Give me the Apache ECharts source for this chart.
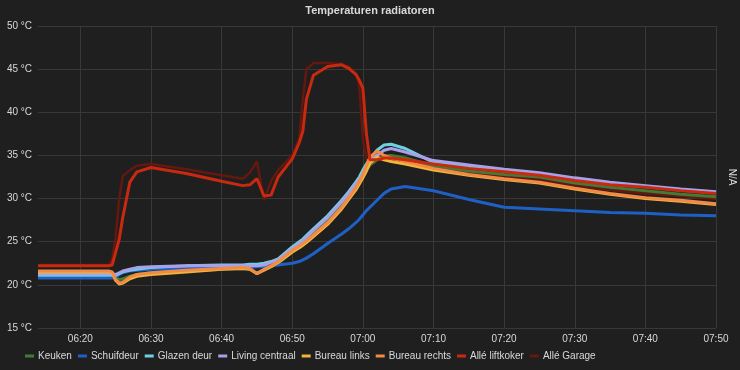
<!DOCTYPE html>
<html>
<head>
<meta charset="utf-8">
<script src="https://cdn.jsdelivr.net/npm/echarts@6/dist/echarts.min.js"></script>
<style>
html,body{margin:0;padding:0;background:#1f1f20;}
#c{width:740px;height:370px;}
</style>
</head>
<body>
<div id="c"></div>
<script>
var title = 'Temperaturen radiatoren';
var seriesNames = ['Keuken','Schuifdeur','Glazen deur','Living centraal','Bureau links','Bureau rechts','Allé liftkoker','Allé Garage'];
var tickLabels = ['06:20','06:30','06:40','06:50','07:00','07:10','07:20','07:30','07:40','07:50'];
var yTicks = [15,20,25,30,35,40,45,50];

var times = ['06:14','06:20','06:24','06:24:30','06:25','06:25:30','06:26','06:27','06:28','06:30',
  '06:35','06:40','06:43','06:44','06:45','06:46','06:47','06:48','06:50','06:51',
  '06:51:30','06:52','06:53','06:55','06:57','06:58','06:59','06:59:30','07:00','07:00:30',
  '07:01','07:02','07:03','07:04','07:06','07:10','07:15','07:20','07:25','07:30',
  '07:35','07:40','07:45','07:50'];

var keuken = [21.4,21.4,21.4,21.3,20.9,20.6,20.7,21.0,21.2,21.4,
  21.6,21.8,21.9,21.8,21.4,21.7,22.1,22.5,23.8,24.4,
  24.7,25.1,25.9,27.4,29.2,30.2,31.3,31.9,32.6,33.3,
  33.9,34.5,34.9,35.0,34.7,33.8,33.2,32.8,32.5,31.8,
  31.3,30.9,30.5,30.2];
var schuifdeur = [20.8,20.8,20.8,20.8,20.9,21.2,21.4,21.6,21.7,21.8,
  21.9,22.0,22.0,22.0,22.1,22.1,22.2,22.3,22.5,22.7,
  22.9,23.1,23.6,24.8,25.9,26.5,27.2,27.6,28.1,28.6,
  29.0,29.8,30.6,31.1,31.4,30.9,29.9,29.0,28.8,28.6,
  28.4,28.3,28.1,28.0];
var glazenDeur = [21.1,21.1,21.1,21.1,21.1,21.3,21.5,21.7,21.8,22.0,
  22.2,22.3,22.3,22.4,22.4,22.5,22.7,23.0,24.4,25.0,
  25.3,25.7,26.5,28.0,29.8,30.8,31.9,32.5,33.3,34.0,
  34.6,35.6,36.2,36.3,35.8,34.2,33.7,33.2,32.8,32.3,
  31.8,31.4,31.0,30.7];
var living = [21.3,21.3,21.3,21.3,21.2,21.4,21.6,21.8,22.0,22.1,
  22.2,22.2,22.2,22.2,22.2,22.3,22.6,22.9,24.2,24.8,
  25.1,25.5,26.3,27.8,29.6,30.6,31.7,32.2,32.9,33.6,
  34.2,35.0,35.6,35.8,35.4,34.4,33.9,33.4,33.0,32.4,
  31.9,31.5,31.1,30.8];
var bureauLinks = [21.5,21.5,21.5,21.4,20.5,20.1,20.2,20.7,21.0,21.2,
  21.5,21.8,21.9,21.8,21.3,21.7,22.1,22.6,23.8,24.3,
  24.6,24.9,25.6,27.0,28.8,29.9,31.0,31.7,32.4,33.2,
  34.1,34.8,34.5,34.3,34.0,33.3,32.7,32.2,31.8,31.1,
  30.5,30.0,29.7,29.3];
var bureauRechts = [21.6,21.6,21.6,21.5,20.6,20.2,20.3,20.9,21.2,21.4,
  21.7,21.9,22.0,21.9,21.3,21.8,22.2,22.7,24.0,24.5,
  24.8,25.1,25.8,27.2,29.0,30.1,31.3,32.0,32.8,33.8,
  34.8,35.5,35.0,34.7,34.3,33.5,32.8,32.3,31.9,31.2,
  30.6,30.1,29.8,29.4];
var liftkoker = [22.2,22.2,22.2,22.3,23.8,25.3,27.8,31.9,33.1,33.6,
  32.9,32.0,31.5,31.6,32.3,30.3,30.4,32.5,34.6,36.5,
  37.8,41.5,44.3,45.3,45.5,45.1,44.4,43.7,42.8,37.5,
  34.5,34.5,34.7,34.7,34.5,34.0,33.5,33.1,32.7,32.1,
  31.6,31.3,30.9,30.6];
var garage = [22.3,22.3,22.3,23.0,25.5,30.0,32.6,33.3,33.8,34.0,
  33.4,32.7,32.3,33.0,34.3,29.8,32.0,33.3,35.0,37.0,
  41.5,45.0,45.7,45.7,45.6,45.3,44.5,43.0,37.0,34.5,
  34.4,34.7,34.8,34.8,34.5,33.7,33.1,32.6,32.2,31.5,
  31.0,30.6,30.3,29.95];

var colors = ['#447a35','#1f60c4','#6ed0e0','#a8a0e8','#f2b43a','#f08a45','#c8290f','#641810'];
var values = [keuken, schuifdeur, glazenDeur, living, bureauLinks, bureauRechts, liftkoker, garage];

function toMin(s){
  var p = s.split(':').map(Number);
  return p[0]*60 + p[1] + (p[2]||0)/60;
}
function fmt(m){
  var h = Math.floor(m/60), mm = Math.round(m - h*60);
  return (h<10?'0':'')+h+':'+(mm<10?'0':'')+mm;
}
var tMin = times.map(toMin);
var tickVals = tickLabels.map(toMin);

var series = seriesNames.map(function(n,i){
  return {
    name: n, type: 'line', showSymbol: false, symbol: 'none',
    data: tMin.map(function(t,j){ return [t, values[i][j]]; }),
    lineStyle: {width: i===7 ? 2.5 : 3, color: colors[i]},
    itemStyle: {color: colors[i]},
    emphasis: {disabled: true},
    z: i===7 ? 1 : 2
  };
});

var FONT = '"Liberation Sans", Arial, sans-serif';
var chart = echarts.init(document.getElementById('c'));
var txt = '#d8d9da';
chart.setOption({
  backgroundColor: '#1f1f20',
  animation: false,
  color: colors,
  textStyle: {fontFamily: FONT},
  title: {text: title, left: 'center', top: 0,
    textStyle: {color: txt, fontSize: 11, fontWeight: 'bold', fontFamily: FONT}},
  grid: {left: 38, right: 24, top: 26, bottom: 42, containLabel: false, outerBoundsMode: 'none'},
  legend: {
    left: 20, bottom: 4, itemWidth: 9, itemHeight: 3, itemGap: 6, icon: 'rect',
    textStyle: {color: txt, fontSize: 10, fontFamily: FONT, padding: [0,0,0,-1]},
    data: seriesNames
  },
  xAxis: {
    type: 'value', min: toMin('06:14'), max: toMin('07:50'),
    axisLine: {show: false}, axisTick: {show: false, customValues: tickVals},
    axisLabel: {customValues: tickVals, color: txt, fontSize: 10, fontFamily: FONT, margin: 6,
      formatter: function(v){ return fmt(v); }},
    splitLine: {show: true, lineStyle: {color: '#383839', width: 1}}
  },
  yAxis: [{
    type: 'value', min: yTicks[0], max: yTicks[yTicks.length-1], interval: 5,
    axisLine: {show: false}, axisTick: {show: false},
    axisLabel: {color: txt, fontSize: 10, fontFamily: FONT, margin: 6, formatter: '{value} °C'},
    splitLine: {show: true, lineStyle: {color: '#383839', width: 1}}
  },{
    type: 'value', position: 'right', min: 0, max: 1,
    name: 'N/A', nameLocation: 'middle', nameRotate: -90, nameGap: 11,
    nameTextStyle: {color: txt, fontSize: 10, fontFamily: FONT},
    axisLine: {show: false}, axisTick: {show: false}, axisLabel: {show: false},
    splitLine: {show: false}
  }],
  series: series
});
</script>
</body>
</html>
